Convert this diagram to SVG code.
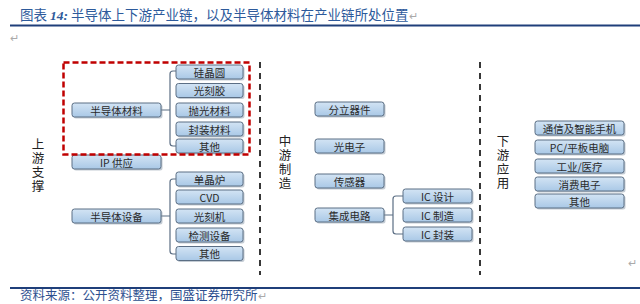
<svg xmlns="http://www.w3.org/2000/svg" width="640" height="304" viewBox="0 0 640 304">
<defs>
<linearGradient id="bg" x1="0" y1="0" x2="0" y2="1">
<stop offset="0" stop-color="#d3e4f4"/>
<stop offset="1" stop-color="#a9c8e6"/>
</linearGradient>
<style>
text{font-family:"Noto Sans CJK SC","Liberation Sans",sans-serif;}
.box rect.b{fill:url(#bg);stroke:#5b6e84;stroke-width:1;}
.box rect.s{fill:#8a99aa;opacity:0.5;}
.box text{font-size:10.5px;fill:#2a2a2a;text-anchor:middle;dominant-baseline:central;}
.lbl{font-size:12.5px;fill:#222;writing-mode:vertical-rl;letter-spacing:1.5px;}
.br{fill:none;stroke:#5b6e84;stroke-width:1.2;}
.sep{stroke:#222;stroke-width:1.8;stroke-dasharray:6 5;}
</style>
</defs>
<rect width="640" height="304" fill="#fff"/>
<text x="20" y="20" font-size="13.5" fill="#2d5a9b">图表 <tspan font-style="italic" font-weight="bold" font-family="Liberation Serif,serif">14:</tspan> 半导体上下游产业链，以及半导体材料在产业链所处位置<tspan fill="#aaa" font-size="11">↵</tspan></text>
<line x1="10" y1="25.5" x2="640" y2="25.5" stroke="#1f3f7a" stroke-width="2"/>
<text x="10" y="42" font-size="11" fill="#aaa">↵</text>
<text x="628" y="267" font-size="11" fill="#aaa">↵</text>
<line x1="10" y1="288" x2="640" y2="288" stroke="#1f3f7a" stroke-width="2"/>
<text x="20" y="300" font-size="12.5" fill="#2d4f8f">资料来源：公开资料整理，国盛证券研究所<tspan fill="#aaa" font-size="11">↵</tspan></text>

<g id="separators">
<line class="sep" x1="260" y1="62" x2="260" y2="275"/>
<line class="sep" x1="480" y1="62" x2="480" y2="275"/>
</g>

<g id="labels">
<text class="lbl" x="38" y="138">上游支撑</text>
<text class="lbl" x="285" y="135">中游制造</text>
<text class="lbl" x="503" y="135">下游应用</text>
</g>

<g id="connectors">
<path class="br" d="M161 110 H170 M176 71 H173 Q170 71 170 74 V143 Q170 146 173 146 H176"/>
<path class="br" d="M161 216 H170 M176 179 H173 Q170 179 170 182 V251 Q170 254 173 254 H176"/>
<path class="br" d="M384 215 H393 M403 196 H396 Q393 196 393 199 V231 Q393 234 396 234 H403"/>
</g>

<g id="n_cailiao" class="box"><rect class="s" x="73.5" y="104.5" width="89" height="14" rx="2.5"/><rect class="b" x="72" y="103" width="89" height="14" rx="2.5"/><text x="116.5" y="110">半导体材料</text></g>
<g id="n_gjy" class="box"><rect class="s" x="177.5" y="66.5" width="67" height="14" rx="2.5"/><rect class="b" x="176" y="65" width="67" height="14" rx="2.5"/><text x="209.5" y="72">硅晶圆</text></g>
<g id="n_gkj" class="box"><rect class="s" x="177.5" y="85" width="67" height="14" rx="2.5"/><rect class="b" x="176" y="83.5" width="67" height="14" rx="2.5"/><text x="209.5" y="90.5">光刻胶</text></g>
<g id="n_pgcl" class="box"><rect class="s" x="177.5" y="104.5" width="67" height="14" rx="2.5"/><rect class="b" x="176" y="103" width="67" height="14" rx="2.5"/><text x="209.5" y="110">抛光材料</text></g>
<g id="n_fzcl" class="box"><rect class="s" x="177.5" y="123.5" width="67" height="14" rx="2.5"/><rect class="b" x="176" y="122" width="67" height="14" rx="2.5"/><text x="209.5" y="129">封装材料</text></g>
<g id="n_qt1" class="box"><rect class="s" x="177.5" y="140.5" width="67" height="14" rx="2.5"/><rect class="b" x="176" y="139" width="67" height="14" rx="2.5"/><text x="209.5" y="146">其他</text></g>

<g id="n_ip" class="box"><rect class="s" x="73.5" y="156.5" width="89" height="14" rx="2.5"/><rect class="b" x="72" y="155" width="89" height="14" rx="2.5"/><text x="116.5" y="162">IP 供应</text></g>

<g id="n_shebei" class="box"><rect class="s" x="73.5" y="210.5" width="89" height="14" rx="2.5"/><rect class="b" x="72" y="209" width="89" height="14" rx="2.5"/><text x="116.5" y="216">半导体设备</text></g>
<g id="n_djl" class="box"><rect class="s" x="177.5" y="173.5" width="67" height="14" rx="2.5"/><rect class="b" x="176" y="172" width="67" height="14" rx="2.5"/><text x="209.5" y="179">单晶炉</text></g>
<g id="n_cvd" class="box"><rect class="s" x="177.5" y="191.5" width="67" height="14" rx="2.5"/><rect class="b" x="176" y="190" width="67" height="14" rx="2.5"/><text x="209.5" y="197">CVD</text></g>
<g id="n_gkjj" class="box"><rect class="s" x="177.5" y="210.5" width="67" height="14" rx="2.5"/><rect class="b" x="176" y="209" width="67" height="14" rx="2.5"/><text x="209.5" y="216">光刻机</text></g>
<g id="n_jcsb" class="box"><rect class="s" x="177.5" y="229.5" width="67" height="14" rx="2.5"/><rect class="b" x="176" y="228" width="67" height="14" rx="2.5"/><text x="209.5" y="235">检测设备</text></g>
<g id="n_qt2" class="box"><rect class="s" x="177.5" y="248" width="67" height="14" rx="2.5"/><rect class="b" x="176" y="246.5" width="67" height="14" rx="2.5"/><text x="209.5" y="253.5">其他</text></g>

<g id="n_flqj" class="box"><rect class="s" x="316.5" y="103.5" width="69" height="14" rx="2.5"/><rect class="b" x="315" y="102" width="69" height="14" rx="2.5"/><text x="349.5" y="109">分立器件</text></g>
<g id="n_gdz" class="box"><rect class="s" x="316.5" y="140.5" width="69" height="14" rx="2.5"/><rect class="b" x="315" y="139" width="69" height="14" rx="2.5"/><text x="349.5" y="146">光电子</text></g>
<g id="n_cgq" class="box"><rect class="s" x="316.5" y="175.5" width="69" height="14" rx="2.5"/><rect class="b" x="315" y="174" width="69" height="14" rx="2.5"/><text x="349.5" y="181">传感器</text></g>
<g id="n_jcdl" class="box"><rect class="s" x="316.5" y="209.5" width="69" height="14" rx="2.5"/><rect class="b" x="315" y="208" width="69" height="14" rx="2.5"/><text x="349.5" y="215">集成电路</text></g>
<g id="n_icsj" class="box"><rect class="s" x="404.5" y="190.5" width="69" height="14" rx="2.5"/><rect class="b" x="403" y="189" width="69" height="14" rx="2.5"/><text x="437.5" y="196">IC 设计</text></g>
<g id="n_iczz" class="box"><rect class="s" x="404.5" y="209.5" width="69" height="14" rx="2.5"/><rect class="b" x="403" y="208" width="69" height="14" rx="2.5"/><text x="437.5" y="215">IC 制造</text></g>
<g id="n_icfz" class="box"><rect class="s" x="404.5" y="228.5" width="69" height="14" rx="2.5"/><rect class="b" x="403" y="227" width="69" height="14" rx="2.5"/><text x="437.5" y="234">IC 封装</text></g>

<g id="n_txsj" class="box"><rect class="s" x="536.5" y="122.5" width="89" height="14" rx="2.5"/><rect class="b" x="535" y="121" width="89" height="14" rx="2.5"/><text x="579.5" y="128">通信及智能手机</text></g>
<g id="n_pc" class="box"><rect class="s" x="536.5" y="141.5" width="89" height="14" rx="2.5"/><rect class="b" x="535" y="140" width="89" height="14" rx="2.5"/><text x="579.5" y="147">PC/平板电脑</text></g>
<g id="n_gy" class="box"><rect class="s" x="536.5" y="160.5" width="89" height="14" rx="2.5"/><rect class="b" x="535" y="159" width="89" height="14" rx="2.5"/><text x="579.5" y="166">工业/医疗</text></g>
<g id="n_xf" class="box"><rect class="s" x="536.5" y="178.5" width="89" height="14" rx="2.5"/><rect class="b" x="535" y="177" width="89" height="14" rx="2.5"/><text x="579.5" y="184">消费电子</text></g>
<g id="n_qt3" class="box"><rect class="s" x="536.5" y="195.5" width="89" height="14" rx="2.5"/><rect class="b" x="535" y="194" width="89" height="14" rx="2.5"/><text x="579.5" y="201">其他</text></g>

<g id="highlight">
<rect x="63.5" y="62.5" width="186" height="92" fill="none" stroke="#c00000" stroke-width="2.5" stroke-dasharray="6 3"/>
</g>
</svg>
